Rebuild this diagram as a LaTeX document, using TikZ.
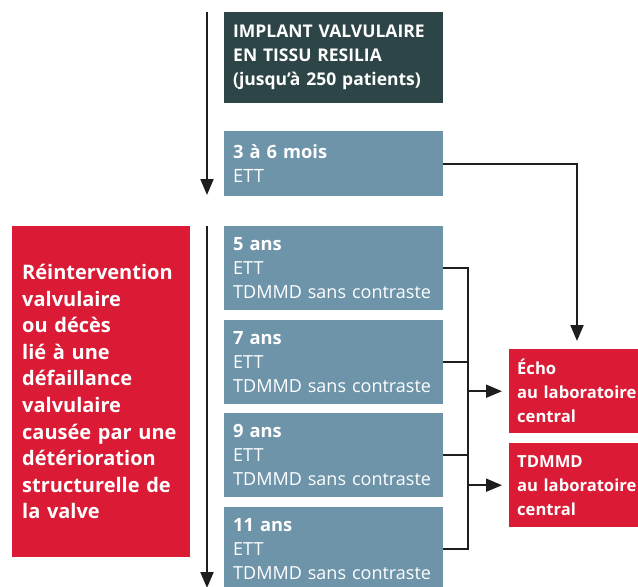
\documentclass[tikz,border=0pt]{standalone}
\usepackage{fontspec}
\setmainfont{Open Sans}
\usepackage{xcolor}
\usetikzlibrary{arrows.meta}

\begin{document}
\begin{tikzpicture}[x=1pt,y=-1pt,
  box/.style={anchor=north west,inner xsep=9pt,inner ysep=0pt,text=white,align=left,
    font=\fontsize{18}{24}\selectfont},
  visit/.style={box,fill=steel,minimum width=219pt,text width=201pt,minimum height=84pt},
  lab/.style={box,fill=alarm,minimum width=141pt,text width=125pt,minimum height=84pt,inner xsep=8pt,
    font=\fontsize{16.6}{24}\bfseries},
  line/.style={line width=2pt,draw=ink},
  arr/.style={line,-{Triangle[length=16pt,width=13pt]}}]
\definecolor{steel}{HTML}{6E94AA}
\definecolor{slate}{HTML}{2D4547}
\definecolor{alarm}{HTML}{DB1A35}
\definecolor{ink}{HTML}{1E1E1E}
\useasboundingbox (0,0) rectangle (638,587);
\node [box,fill=slate,minimum width=219pt,text width=201pt,minimum height=91pt,
  font=\fontsize{17.5}{24}\bfseries] (implant) at (224,12)
  {IMPLANT VALVULAIRE\\EN TISSU RESILIA\\(jusqu’à 250 patients)};
\node [visit,minimum height=65pt] (m36) at (224,131)
  {\fontsize{18.3}{24}\bfseries 3 à 6 mois\\\mdseries ETT};
\foreach \yr/\ypos in {5/226,7/319.5,9/413,11/506.5}
  {\node [visit] (y\yr) at (224,\ypos)
    {{\fontsize{18.3}{24}\bfseries \yr{} ans}\\ETT\\TDMMD sans contraste};}
\node [box,fill=alarm,minimum width=178pt,text width=158pt,minimum height=331pt,inner xsep=10pt,
  font=\fontsize{20}{26.6}\bfseries] (event) at (12,226)
  {Réintervention\\valvulaire\\ou décès\\lié à une\\défaillance\\valvulaire\\causée par une\\détérioration\\structurelle de\\la valve};
\node [lab] (echo) at (509,349) {Écho\\au laboratoire\\central};
\node [lab] (ct) at (509,443) {TDMMD\\au laboratoire\\central};
% time axis
\coordinate (t0) at (207,12);
\coordinate (t1) at (207,195);
\coordinate (t2) at (207,226);
\coordinate (t3) at (207,588);
\draw [arr] (t0) -- (t1);
\draw [arr] (t2) -- (t3);
% links to core labs
\coordinate (brk) at (468,547);
\coordinate (drop) at (577,349);
\draw [arr,shorten >=8pt] (m36.east) -| (drop);
\draw [line] (y5.east) -- (y5.east -| brk) -- (y11.east -| brk) -- (y11.east);
\draw [line] (y7.east) -- (y7.east -| brk);
\draw [line] (y9.east) -- (y9.east -| brk);
\draw [arr,shorten >=7pt] (echo.west -| brk) -- (echo.west);
\draw [arr,shorten >=7pt] (ct.west -| brk) -- (ct.west);
\end{tikzpicture}
\end{document}
